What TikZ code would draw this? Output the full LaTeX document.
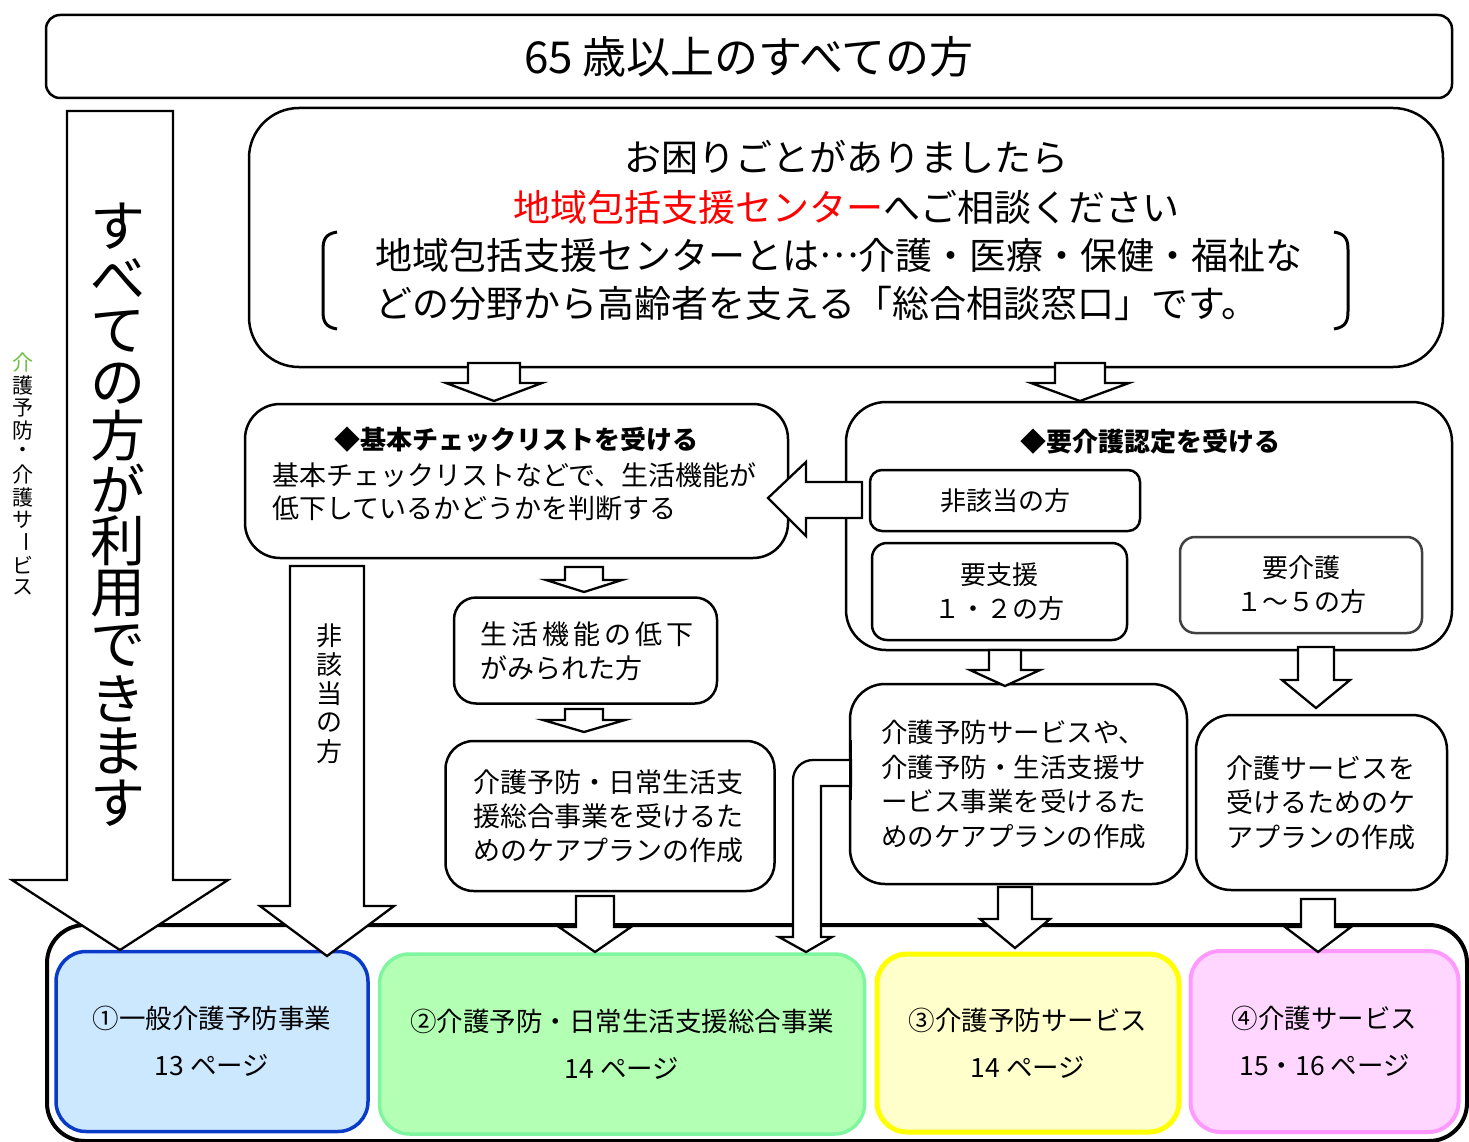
\documentclass[tikz,border=0pt]{standalone}
\usepackage{fontspec}
\setmainfont{Noto Sans CJK JP}
\usepackage{graphicx}
\definecolor{bluebd}{HTML}{0A3BC8}
\definecolor{bluefl}{HTML}{CCE8FF}
\definecolor{greenbd}{HTML}{80F5A0}
\definecolor{greenfl}{HTML}{B3FFB3}
\definecolor{yelbd}{HTML}{FFFF00}
\definecolor{yelfl}{HTML}{FFFFCC}
\definecolor{pinkbd}{HTML}{FF99FF}
\definecolor{pinkfl}{HTML}{FFD6FF}
\definecolor{lgreen}{HTML}{6DBE45}
\newcommand\fsz[2]{\fontsize{#1}{#2}\selectfont}
\newcommand\bdown[6]{\draw[barrow] ({#1-#2},#4) -- ({#1+#2},#4) -- ({#1+#2},#5) -- ({#1+#3},#5) -- (#1,#6) -- ({#1-#3},#5) -- ({#1-#2},#5) -- cycle;}
\tikzset{
  rbox/.style={draw, line width=2.5pt, fill=white, rounded corners=#1, inner sep=0pt},
  cbox/.style={line width=3.5pt, rounded corners=30pt, inner sep=0pt, align=center, font=\fsz{26.5}{47}},
  barrow/.style={draw, line width=2.3pt, fill=white, line join=miter},
  txt/.style={inner sep=0pt},
}
\begin{document}
\begin{tikzpicture}[x=1pt,y=-1pt]
\useasboundingbox (0,0) rectangle (1469,1142);
\fill[white] (0,0) rectangle (1469,1142);

% bottom container
\draw[line width=4pt, rounded corners=38pt] (47,925) rectangle (1467,1141);
\node[cbox, draw=bluebd, fill=bluefl, minimum width=312pt, minimum height=180pt] (b1) at (212,1041.5) {①一般介護予防事業\\13 ページ};
\node[cbox, draw=greenbd, fill=greenfl, minimum width=485pt, minimum height=180pt] (b2) at (622,1044) {②介護予防・日常生活支援総合事業\\14 ページ};
\node[cbox, draw=yelbd, fill=yelfl, line width=5pt, minimum width=302pt, minimum height=178pt] (b3) at (1028,1043) {③介護予防サービス\\14 ページ};
\node[cbox, draw=pinkbd, fill=pinkfl, line width=4pt, minimum width=268pt, minimum height=181pt] (b4) at (1324.5,1041.5) {④介護サービス\\15・16 ページ};

% title
\node[rbox=14pt, minimum width=1406pt, minimum height=83pt, font=\fsz{44}{50}] (top) at (749,56.5) {65 歳以上のすべての方};

% big consult box
\node[rbox=50pt, minimum width=1194pt, minimum height=259pt] (consult) at (846,237.5) {};
\node[txt, font=\fsz{37}{48}] (c1) at (846,157) {お困りごとがありましたら};
\node[txt, font=\fsz{37}{48}] (c2) at (846,207) {\textcolor{red}{地域包括支援センター}へご相談ください};
\node[txt, anchor=west, align=left, font=\fsz{37}{48}] (c3) at (375,279) {地域包括支援センターとは\raisebox{0.3em}{…}介護・医療・保健・福祉な\\どの分野から高齢者を支える「総合相談窓口」です。};
\draw[line width=3pt] (337,232) .. controls (325,234) and (323,240) .. (323,250) -- (323,311) .. controls (323,321) and (325,327) .. (337,329);
\draw[line width=3pt] (1334,232) .. controls (1346,234) and (1348,240) .. (1348,250) -- (1348,311) .. controls (1348,321) and (1346,327) .. (1334,329);

% check list box
\node[rbox=35pt, minimum width=543pt, minimum height=154pt] (chk) at (516.5,481) {};
\node[txt, font=\bfseries\fsz{26}{32}] (chkt) at (516,440) {◆基本チェックリストを受ける};
\node[txt, anchor=west, align=left, font=\fsz{27}{33}] (chkb) at (272,491.5) {基本チェックリストなどで、生活機能が\\低下しているかどうかを判断する};

% care certification container
\node[rbox=40pt, minimum width=606pt, minimum height=248pt] (cert) at (1149,526) {};
\node[txt, font=\bfseries\fsz{26}{32}] (certt) at (1150,442) {◆要介護認定を受ける};
\node[rbox=12pt, minimum width=270pt, minimum height=61pt, font=\fsz{26}{34}] (nonapp) at (1005,500.5) {非該当の方};
\node[rbox=15pt, minimum width=255pt, minimum height=97pt, font=\fsz{26}{34}, align=center] (shien) at (999.5,591.5) {要支援\\１・２の方};
\node[rbox=15pt, draw=black!75, minimum width=242pt, minimum height=96pt, font=\fsz{26}{34}, align=center] (kaigo) at (1301,585) {要介護\\１～５の方};

% middle column
\node[rbox=22pt, minimum width=263pt, minimum height=106pt] (decl) at (585.5,650.5) {};
\node[txt, anchor=west, align=left, font=\fsz{27}{34}] (declt) at (480,651) {生\kern4pt 活\kern4pt 機\kern4pt 能\kern4pt の\kern4pt 低\kern4pt 下\\がみられた方};
\node[rbox=28pt, minimum width=329pt, minimum height=150pt] (plan1) at (610,816) {};
\node[txt, anchor=west, align=left, font=\fsz{27}{34}] (plan1t) at (473,816) {介護予防・日常生活支\\援総合事業を受けるた\\めのケアプランの作成};

% right plans
\node[rbox=35pt, minimum width=337pt, minimum height=200pt] (plan2) at (1018.5,784) {};
\node[txt, anchor=west, align=left, font=\fsz{26.5}{34.4}] (plan2t) at (881,784.5) {介護予防サービスや、\\介護予防・生活支援サ\\ービス事業を受けるた\\めのケアプランの作成};
\node[rbox=35pt, minimum width=251pt, minimum height=175pt] (plan3) at (1321.5,802.5) {};
\node[txt, anchor=west, align=left, font=\fsz{27}{34.5}] (plan3t) at (1226,802.5) {介護サービスを\\受けるためのケ\\アプランの作成};

% block arrows
\bdown{120}{53}{108}{111}{880}{950}
\bdown{327}{37}{67}{566}{906}{956}
\bdown{494}{26}{48}{363}{383}{401}
\bdown{1080}{25}{49}{363}{383}{401}
\bdown{584}{19}{38}{567}{580}{592}
\bdown{584}{19}{41}{709}{720}{732}
\bdown{595}{19}{36}{896}{927}{952}
\bdown{1005}{16}{35}{650}{670}{686}
\bdown{1316}{18}{34}{647}{680}{708}
\bdown{1015}{17}{35}{887}{919}{948}
\bdown{1318}{17}{33}{899}{927}{952}
% left arrow from nonapp to check list
\draw[barrow] (862,482) -- (806,482) -- (806,462) -- (768,498) -- (806,536) -- (806,518) -- (862,518) -- cycle;
% bent arrow from plan2 to b2
\draw[barrow] (851,760) -- (813,760) arc[start angle=90, end angle=180, radius=20pt] -- (793,937) -- (779,937) -- (806,952) -- (832,937) -- (821,937) -- (821,786) -- (851,786) -- cycle;
\draw[line width=2.5pt] (850.5,740) -- (850.5,800);

% vertical texts
\foreach \c [count=\i] in {す,べ,て,の,方,が,利,用,で,き,ま,す}
  \node[txt, font=\fsz{55}{55}] (vt\i) at (118,{226+52.5*(\i-1)}) {\c};
\foreach \c [count=\i] in {非,該,当,の,方}
  \node[txt, font=\fsz{26}{26}] (vn\i) at (329,{636+29*(\i-1)}) {\c};
\foreach \c [count=\i] in {\textcolor{lgreen}{介},護,予,防,・,介,護,サ,\rotatebox{-90}{ー},ビ,ス}
  \node[txt, font=\fsz{21}{21}] (vs\i) at (23,{363+22.4*(\i-1)}) {\c};
\end{tikzpicture}
\end{document}
